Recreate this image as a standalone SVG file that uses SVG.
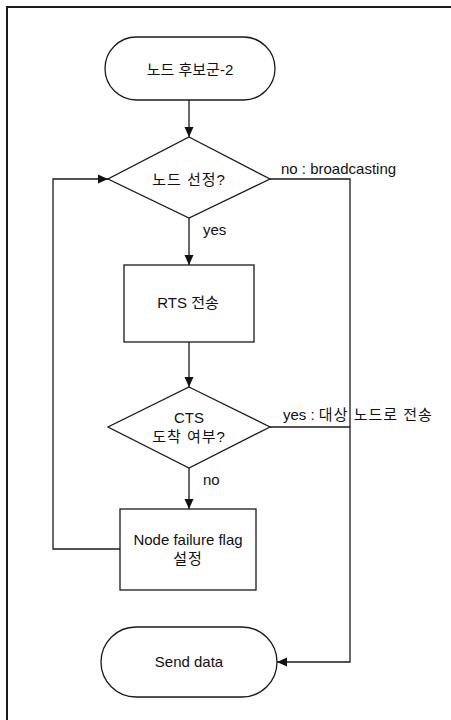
<svg xmlns="http://www.w3.org/2000/svg" width="451" height="720" viewBox="0 0 451 720">
  <style>
    .shape { fill: #ffffff; stroke: #1a1a1a; stroke-width: 1.3; }
    .edge { fill: none; stroke: #1a1a1a; stroke-width: 1.3; }
    .frame { fill: none; stroke: #1a1a1a; stroke-width: 2; }
    text { font-family: "Liberation Sans", "Noto Sans CJK KR", sans-serif; font-size: 15px; fill: #111111; }
    .c { text-anchor: middle; }
    .ko { letter-spacing: 1px; }
  </style>
  <defs>
    <marker id="arrow" viewBox="0 0 10 10" refX="10" refY="5" markerWidth="10" markerHeight="10" markerUnits="userSpaceOnUse" orient="auto">
      <path d="M0,0.5 L10,5 L0,9.5 Z" fill="#111111"/>
    </marker>
  </defs>

  <rect width="451" height="720" fill="#ffffff"/>
  <!-- page frame -->
  <path class="frame" d="M7,720 V7 H451"/>

  <!-- connectors -->
  <g id="connectors">
    <line class="edge" x1="189" y1="100" x2="189" y2="137" marker-end="url(#arrow)"/>
    <line class="edge" x1="189" y1="218" x2="189" y2="265" marker-end="url(#arrow)"/>
    <line class="edge" x1="189" y1="342" x2="189" y2="387" marker-end="url(#arrow)"/>
    <line class="edge" x1="189" y1="468" x2="189" y2="509" marker-end="url(#arrow)"/>
    <!-- no branch to Send data -->
    <polyline class="edge" points="270,179 350,179 350,662 277,662" marker-end="url(#arrow)"/>
    <!-- yes branch joins the right-hand line -->
    <line class="edge" x1="270" y1="427" x2="350" y2="427"/>
    <!-- retry loop -->
    <polyline class="edge" points="120,549 53,549 53,179 108,179" marker-end="url(#arrow)"/>
    <text x="281" y="174">no : broadcasting</text>
    <text x="203" y="235">yes</text>
    <text x="283" y="420">yes : <tspan class="ko">대상 노드로 전송</tspan></text>
    <text x="203" y="485">no</text>
  </g>

  <g id="start">
    <rect class="shape" x="105" y="37" width="170" height="63" rx="31.5"/>
    <text class="c" x="190" y="75">노드 후보군-2</text>
  </g>

  <g id="select">
    <polygon class="shape" points="189,137 270,179 189,218 108,179"/>
    <text class="c ko" x="189" y="185">노드 선정?</text>
  </g>

  <g id="rts">
    <rect class="shape" x="124" y="265" width="130" height="77"/>
    <text class="c" x="188" y="308">RTS 전송</text>
  </g>

  <g id="cts">
    <polygon class="shape" points="189,387 270,427 189,468 108,427"/>
    <text class="c" x="189" y="423">CTS</text>
    <text class="c ko" x="189" y="442">도착 여부?</text>
  </g>

  <g id="failure">
    <rect class="shape" x="120" y="509" width="136" height="81"/>
    <text class="c" x="188" y="545">Node failure flag</text>
    <text class="c ko" x="188" y="564">설정</text>
  </g>

  <g id="send">
    <rect class="shape" x="101" y="627" width="176" height="70" rx="35"/>
    <text class="c" x="189" y="667">Send data</text>
  </g>
</svg>
